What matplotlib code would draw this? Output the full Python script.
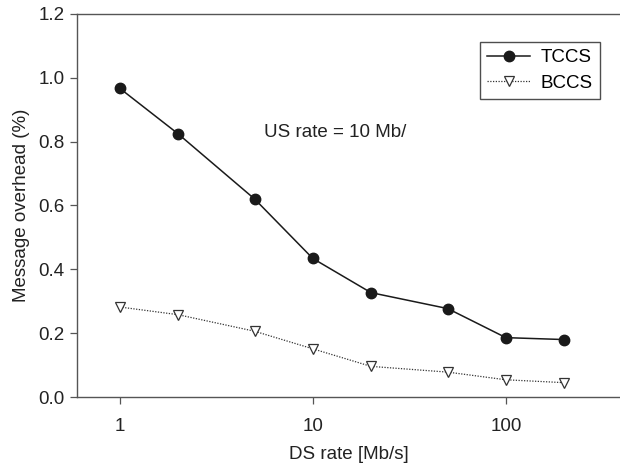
import matplotlib
matplotlib.use("Agg")
import matplotlib.pyplot as plt
from matplotlib.ticker import FixedLocator, NullLocator

plt.rcParams['font.family'] = ['Liberation Sans', 'DejaVu Sans']

ds_rate = [1, 2, 5, 10, 20, 50, 100, 200]
tccs = [0.967, 0.825, 0.620, 0.434, 0.327, 0.277, 0.186, 0.180]
bccs = [0.282, 0.258, 0.206, 0.151, 0.096, 0.078, 0.054, 0.045]
x_ticks = [1, 10, 100]
x_tick_labels = ["1", "10", "100"]
y_ticks = [0.0, 0.2, 0.4, 0.6, 0.8, 1.0, 1.2]

FS = 13.5
fig = plt.figure(figsize=(6.2, 4.63), dpi=100)
ax = fig.add_axes([0.124, 0.1425, 0.876, 0.8275])

ax.plot(ds_rate, tccs, color='#1a1a1a', lw=1.1, marker='o', ms=7.5,
        mfc='#1a1a1a', mec='#1a1a1a', label='TCCS')
ax.plot(ds_rate, bccs, color='#333333', lw=0.9, ls=(0, (1, 1.2)), marker='v', ms=7.5,
        mfc='white', mec='#333333', mew=0.9, label='BCCS')

ax.set_xscale('log')
ax.set_xlim(0.6, 390)
ax.set_ylim(0, 1.2)
ax.xaxis.set_major_locator(FixedLocator(x_ticks))
ax.xaxis.set_minor_locator(NullLocator())
ax.set_xticklabels(x_tick_labels)
ax.set_yticks(y_ticks)
ax.set_yticklabels([f"{v:.1f}" for v in y_ticks])

for s in ['left', 'bottom', 'top']:
    ax.spines[s].set_color('#555555')
    ax.spines[s].set_linewidth(1.0)
ax.spines['right'].set_visible(False)
ax.tick_params(axis='both', direction='out', length=5, width=0.9, color='#555555',
               labelsize=FS, labelcolor='#222222', pad=4)
ax.tick_params(axis='x', pad=10)

ax.set_xlabel('DS rate [Mb/s]', fontsize=FS, color='#222222', labelpad=8)
ax.set_ylabel('Message overhead (%)', fontsize=FS, color='#222222', labelpad=6)

ax.text(5.6, 0.827, 'US rate = 10 Mb/', fontsize=FS, color='#222222',
        ha='left', va='center')

leg = ax.legend(loc='upper left', bbox_to_anchor=(480 / 620, (463 - 42) / 463),
                bbox_transform=fig.transFigure, frameon=True,
                fancybox=False, edgecolor='#222222', fontsize=FS,
                handlelength=2.3, borderpad=0.38, labelspacing=0.45,
                handletextpad=0.55, borderaxespad=0)
leg.get_frame().set_linewidth(1.0)

fig.savefig('out.png', dpi=100)
